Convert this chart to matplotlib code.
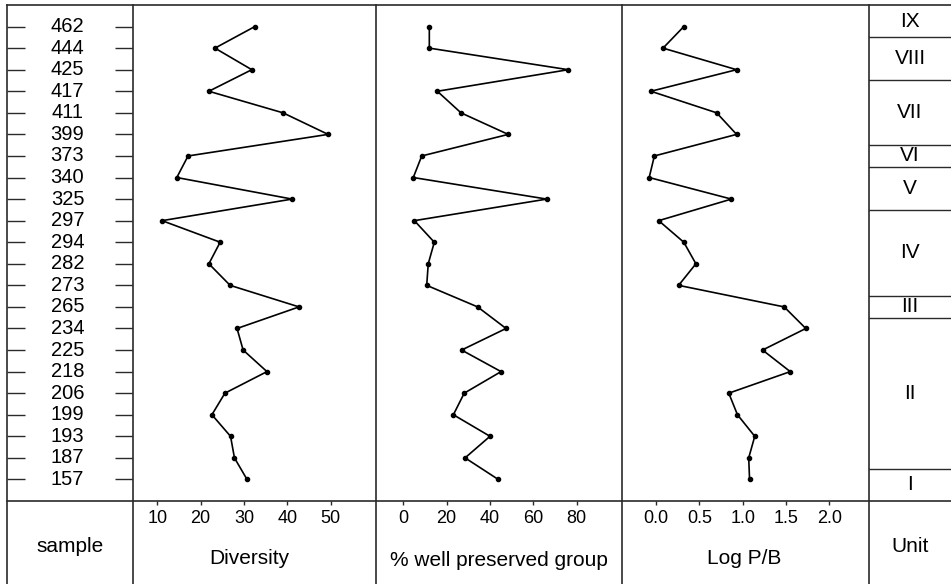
import numpy as np
import matplotlib
matplotlib.use("Agg")
import matplotlib.pyplot as plt
from matplotlib.lines import Line2D

plt.rcParams['font.family'] = ['Liberation Sans', 'DejaVu Sans']

# samples listed top (youngest) to bottom
samples = ['462', '444', '425', '417', '411', '399', '373', '340', '325', '297', '294',
           '282', '273', '265', '234', '225', '218', '206', '199', '193', '187', '157']

diversity = [32.5, 23.3, 31.8, 21.9, 39.0, 49.4, 17.1, 14.5, 41.1, 11.1, 24.5,
             21.9, 26.8, 42.7, 28.4, 29.8, 35.3, 25.6, 22.6, 26.9, 27.8, 30.7]

well_preserved = [12.0, 12.0, 76.1, 15.7, 26.6, 48.4, 8.5, 4.6, 66.2, 5.1, 14.3,
                  11.5, 10.8, 34.3, 47.4, 26.9, 45.1, 28.1, 23.1, 40.0, 28.5, 43.8]

log_pb = [0.32, 0.08, 0.93, -0.06, 0.70, 0.93, -0.02, -0.08, 0.87, 0.03, 0.32,
          0.46, 0.26, 1.48, 1.73, 1.23, 1.55, 0.84, 0.94, 1.14, 1.07, 1.08]

# units from top to bottom, with number of samples in each
unit_names = ['IX', 'VIII', 'VII', 'VI', 'V', 'IV', 'III', 'II', 'I']
unit_counts = [1, 2, 3, 1, 2, 4, 1, 7, 1]

div_ticks = [10, 20, 30, 40, 50]
pct_ticks = [0, 20, 40, 60, 80]
log_ticks = [0.0, 0.5, 1.0, 1.5, 2.0]

W, H = 951, 584
TOP, SEP = 5, 501
COLS = [7, 133, 376, 622, 869, 951]
FRAME = '#2a2a2a'


def fx(x):
    return x / W


def fy(y):
    return 1 - y / H


def add_col(fig, i):
    x0, x1 = COLS[i], COLS[i + 1]
    ax = fig.add_axes([fx(x0), fy(SEP), (x1 - x0) / W, (SEP - TOP) / H])
    ax.set_ylim(len(samples), -1)
    for s in ax.spines.values():
        s.set_visible(False)
    ax.set_yticks([])
    ax.set_xticks([])
    return ax


def data_panel(fig, i, values, ticks, xlim, fmt):
    ax = add_col(fig, i)
    rows = np.arange(len(samples))
    ax.plot(values, rows, color='black', lw=1.2, marker='o', ms=3)
    ax.set_xlim(*xlim)
    ax.set_xticks(ticks)
    ax.set_xticklabels([fmt.format(t) for t in ticks])
    ax.tick_params(axis='x', direction='out', length=3, width=1, pad=3.5,
                   labelsize=13, color=FRAME)
    return ax


fig = plt.figure(figsize=(W / 100, H / 100), dpi=100)

# sample column
ax_s = add_col(fig, 0)
rows = np.arange(len(samples))
ax_s.set_yticks(rows)
ax_s.set_yticklabels([])
ax_s.tick_params(axis='y', left=True, right=True, direction='in', length=13,
                 width=1, color=FRAME)
for r, s in zip(rows, samples):
    ax_s.text(0.48, r, s, transform=ax_s.get_yaxis_transform(), ha='center',
              va='center', fontsize=14.5)

data_panel(fig, 1, diversity, div_ticks, (4.4, 60.45), '{:d}')
data_panel(fig, 2, well_preserved, pct_ticks, (-12.6, 100.9), '{:d}')
data_panel(fig, 3, log_pb, log_ticks, (-0.394, 2.46), '{:.1f}')

# unit column
ax_u = add_col(fig, 4)
ax_u.set_xlim(0, 1)
edges = np.concatenate([[-1], np.cumsum(unit_counts) - 0.5])
edges[-1] = len(samples)
for b in edges[1:-1]:
    ax_u.axhline(b, color=FRAME, lw=1.0)
for name, a, b in zip(unit_names, edges[:-1], edges[1:]):
    ax_u.text(0.5, (a + b) / 2, name, ha='center', va='center', fontsize=15)

# frame lines
fig.add_artist(Line2D([fx(COLS[0]), 1], [fy(TOP), fy(TOP)], color=FRAME, lw=1.2))
fig.add_artist(Line2D([fx(COLS[0]), 1], [fy(SEP), fy(SEP)], color=FRAME, lw=1.2))
for x in COLS[:-1]:
    fig.add_artist(Line2D([fx(x), fx(x)], [fy(TOP), 0], color=FRAME, lw=1.2))

# column headings below the separator
fig.text(fx(70), fy(547), 'sample', ha='center', va='center', fontsize=15)
fig.text(fx(249), fy(559), 'Diversity', ha='center', va='center', fontsize=15)
fig.text(fx(499), fy(560), '% well preserved group', ha='center', va='center', fontsize=15)
fig.text(fx(744), fy(558), 'Log P/B', ha='center', va='center', fontsize=15)
fig.text(fx(910), fy(547), 'Unit', ha='center', va='center', fontsize=15)

fig.savefig('out.png', dpi=100)
